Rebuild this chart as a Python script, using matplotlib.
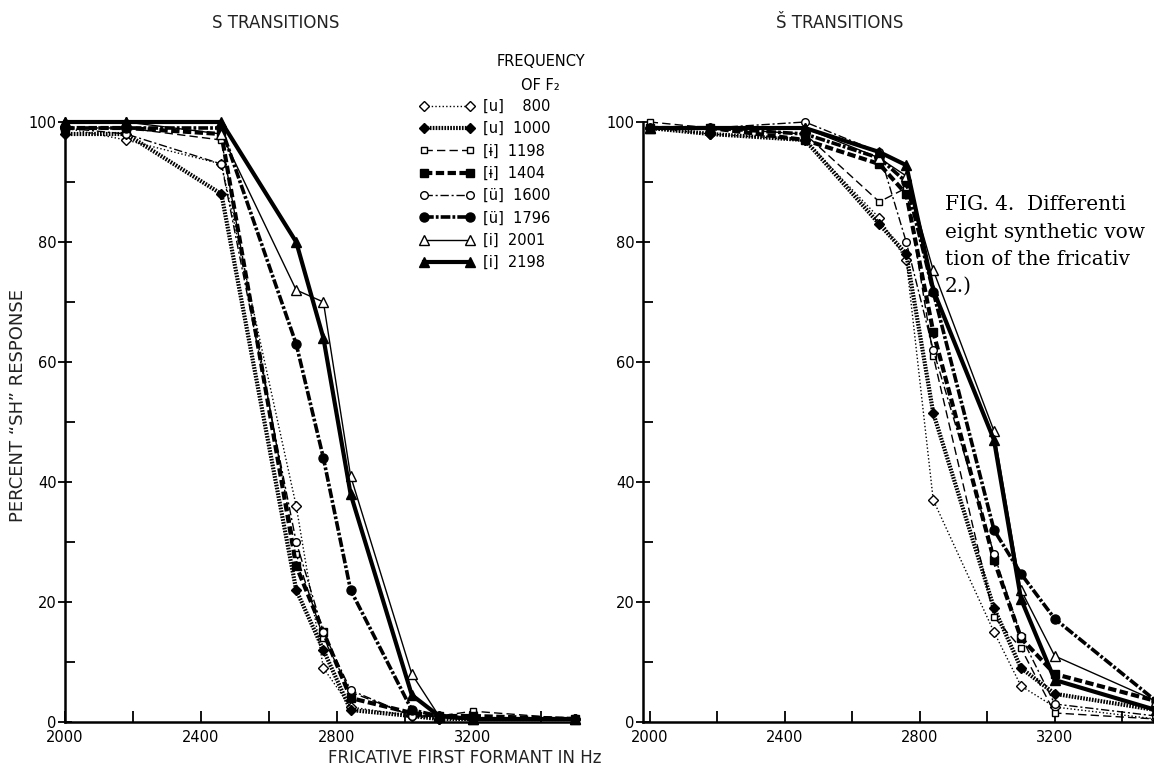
import matplotlib
matplotlib.use('Agg')
import matplotlib.pyplot as plt

plt.rcParams['lines.scale_dashes'] = False
plt.rcParams['font.family'] = ['DejaVu Sans']

# Fricative first formant values (Hz) used as stimuli
x_s = [2000, 2180, 2460, 2680, 2760, 2840, 3020, 3100, 3200, 3500]
x_sh = [2000, 2180, 2460, 2680, 2760, 2840, 3020, 3100, 3200, 3500]

# F2 of the vowel and the vowel symbol for each curve
f2_freq = [800, 1000, 1198, 1404, 1600, 1796, 2001, 2198]
vowels = ['u', 'u', 'ɨ', 'ɨ', 'ü', 'ü', 'i', 'i']

# percent "sh" responses, S transitions (left panel)
s_800 = [99, 97, 93, 36, 9, 2.5, 1, 0.5, 0.5, 0.5]
s_1000 = [98, 98, 88, 22, 12, 2, 1, 0.5, 0.5, 0.5]
s_1198 = [99, 99, 97, 28, 14, 5, 1, 1, 1.8, 0.5]
s_1404 = [99, 99, 98, 26, 15, 4, 1.5, 1, 1, 0.5]
s_1600 = [99, 98, 93, 30, 15, 5.3, 1, 1, 0.5, 0.5]
s_1796 = [99, 99, 99, 63, 44, 22, 2, 1, 0.5, 0.5]
s_2001 = [100, 100, 98, 72, 70, 41, 8, 1, 0.5, 0.5]
s_2198 = [100, 100, 100, 80, 64, 38, 4.5, 1, 0.5, 0.5]

# percent "sh" responses, SH transitions (right panel)
sh_800 = [99, 98, 97, 84, 77, 37, 15, 6, 2.5, 0.5]
sh_1000 = [99, 98, 97, 83, 78, 51.5, 19, 9, 4.7, 2]
sh_1198 = [100, 99, 98, 86.7, 89, 61, 17.5, 12.3, 1.5, 0.5]
sh_1404 = [99, 99, 97, 93, 88, 65, 27, 14, 8, 3.5]
sh_1600 = [99, 99, 100, 95, 80, 62, 28, 14.3, 3, 1]
sh_1796 = [99, 99, 98, 94, 90, 71.7, 32, 24.7, 17.2, 3.5]
sh_2001 = [99, 99, 99, 94, 91, 75.3, 48.5, 22, 11, 3.5]
sh_2198 = [99, 99, 99, 95, 92.8, 72, 47, 20.5, 7, 2]

s_curves = [s_800, s_1000, s_1198, s_1404, s_1600, s_1796, s_2001, s_2198]
sh_curves = [sh_800, sh_1000, sh_1198, sh_1404, sh_1600, sh_1796, sh_2001, sh_2198]

# line look for each F2 curve (open = thin line, filled = heavy line)
styles = [
    dict(marker='D', mfc='white', ms=5, lw=1.0, ls=(0, (1, 1.6))),
    dict(marker='D', mfc='black', ms=5, lw=3.0, ls=(0, (1.2, 0.9))),
    dict(marker='s', mfc='white', ms=5, lw=1.0, ls=(0, (6, 3))),
    dict(marker='s', mfc='black', ms=5.5, lw=3.0, ls=(0, (6, 2.5))),
    dict(marker='o', mfc='white', ms=5.5, lw=1.0, ls=(0, (6, 2, 1.5, 2))),
    dict(marker='o', mfc='black', ms=6.5, lw=2.6, ls=(0, (7, 1.5, 2, 1.5))),
    dict(marker='^', mfc='white', ms=6.5, lw=1.0, ls='-'),
    dict(marker='^', mfc='black', ms=6.5, lw=3.0, ls='-'),
]

W, H = 1154, 774
fig = plt.figure(figsize=(W / 100, H / 100), dpi=100)
fig.patch.set_facecolor('white')

ax1 = fig.add_axes([65 / W, 52 / H, 510 / W, 600 / H])
ax2 = fig.add_axes([643 / W, 52 / H, 513 / W, 600 / H])


def draw_panel(ax, xs, curves, xmin):
    handles = []
    for ys, st in zip(curves, styles):
        h, = ax.plot(xs, ys, color='black', mec='black', mew=1.0,
                     marker=st['marker'], mfc=st['mfc'], ms=st['ms'],
                     lw=st['lw'], ls=st['ls'], clip_on=False)
        handles.append(h)
    ax.set_xlim(xmin, 3500)
    ax.set_ylim(0, 100)
    for side in ['top', 'right']:
        ax.spines[side].set_visible(False)
    for side in ['left', 'bottom']:
        ax.spines[side].set_linewidth(1.8)
    ax.set_yticks([0, 20, 40, 60, 80, 100])
    ax.set_yticks([10, 30, 50, 70, 90], minor=True)
    ax.set_xticks([2000, 2400, 2800, 3200])
    ax.set_xticks([2200, 2600, 3000, 3400], minor=True)
    ax.tick_params(axis='y', which='major', direction='inout', length=10,
                   width=1.3, pad=1, labelsize=10.5)
    ax.tick_params(axis='y', which='minor', direction='in', length=7, width=1.3)
    ax.tick_params(axis='x', which='both', direction='in', length=8,
                   width=1.3, pad=6, labelsize=10.5)
    ax.patch.set_alpha(0)
    return handles


handles = draw_panel(ax1, x_s, s_curves, 2000)
draw_panel(ax2, x_sh, sh_curves, 1980)

# legend with the vowel and F2 of each curve
labels = ['[%s]  %s' % (v, str(f).rjust(4, '\u2007')) for v, f in zip(vowels, f2_freq)]
fig.legend(handles, labels, loc='upper left', bbox_to_anchor=(420 / W, 1 - 99 / H),
           frameon=False, numpoints=2, handlelength=3.7, handletextpad=0.6,
           labelspacing=0.5, fontsize=10.5, borderpad=0, borderaxespad=0)
fig.text(541 / W, 1 - 62 / H, 'FREQUENCY', ha='center', va='center', fontsize=10.5)
fig.text(540 / W, 1 - 85 / H, 'OF F\u2082', ha='center', va='center', fontsize=10.5)

# panel titles and axis labels
fig.text(276 / W, 1 - 23 / H, 'S TRANSITIONS', ha='center', va='center',
         fontsize=12, color='#222')
fig.text(840 / W, 1 - 23 / H, 'Š TRANSITIONS', ha='center', va='center',
         fontsize=12, color='#222')
fig.text(465 / W, 1 - 758 / H, 'FRICATIVE FIRST FORMANT IN Hz', ha='center',
         va='center', fontsize=12, color='#222')
fig.text(18 / W, 1 - 405 / H, 'PERCENT \u201cSH\u201d RESPONSE', ha='center',
         va='center', rotation=90, fontsize=13, color='#222')

# caption of the original page, as far as it shows at the right edge
caption = ['FIG. 4.  Differenti', 'eight synthetic vow',
           'tion of the fricativ', '2.)']
for i, line in enumerate(caption):
    fig.text(945 / W, 1 - (205 + 27 * i) / H, line, ha='left', va='center',
             fontsize=14.5, family='DejaVu Serif')

fig.savefig('out.png', dpi=100)
